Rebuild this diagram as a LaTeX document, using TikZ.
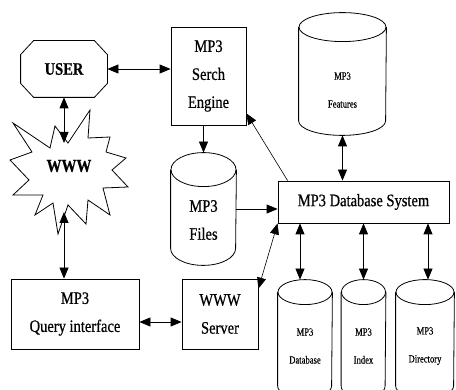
\documentclass[tikz,border=0pt]{standalone}
\usepackage{fontspec}
\setmainfont[FakeStretch=0.83, FakeBold=0.6]{Liberation Serif}
\newfontfamily\narrowfont[FakeStretch=0.78, FakeBold=0.3]{Liberation Serif}
\usetikzlibrary{arrows.meta}
\newcommand\bigtxt{\fontsize{17.5}{28}\selectfont}
\newcommand\smalltxt{\narrowfont\fontsize{11}{28}\selectfont}
% drum: name, cx, cy, width, height, ry
\newcommand\drum[6]{%
  \node[minimum width=#4pt, minimum height=#5pt, inner sep=0pt] (#1) at (#2,#3) {};
  \draw ([yshift=-#6pt]#1.north west) -- ([yshift=#6pt]#1.south west)
        arc[start angle=180, end angle=360, x radius={#4pt/2}, y radius=#6pt]
        -- ([yshift=-#6pt]#1.north east);
  \draw ([yshift=-#6pt]#1.north) ellipse[x radius={#4pt/2}, y radius=#6pt];
}
\begin{document}
\begin{tikzpicture}[x=1pt, y=-1pt, line width=0.8pt,
  panel/.style={draw, inner sep=0pt, align=center, font=\bigtxt},
  label/.style={inner sep=0pt, align=center},
  tip/.tip={Triangle[length=11pt, width=9pt]},
  arr/.style={-tip},
  darr/.style={tip-tip}]
  \useasboundingbox (0,0) rectangle (456,390);
  \fill[white] (0,0) rectangle (456,390);
  \clip (0,0) rectangle (456,390);

  % user octagon
  \node[minimum width=86pt, minimum height=56pt, inner sep=0pt, font=\bigtxt\bfseries] (user) at (64,69) {USER};
  \draw ([xshift=13pt]user.north west) -- ([xshift=-13pt]user.north east)
     -- ([yshift=-14pt]user.north east) -- ([yshift=14pt]user.south east)
     -- ([xshift=-13pt]user.south east) -- ([xshift=13pt]user.south west)
     -- ([yshift=14pt]user.south west) -- ([yshift=-14pt]user.north west) -- cycle;

  % WWW burst
  \draw (13,123) -- (50,148) -- (55,126) -- (68,143) -- (90,110) -- (88,138)
     -- (110,137) -- (106,152) -- (126,158) -- (112,170) -- (128,187) -- (103,188)
     -- (110,215) -- (88,200) -- (86,224) -- (68,205) -- (58,234) -- (53,203)
     -- (35,215) -- (43,195) -- (13,195) -- (29,180) -- (10,160) -- (32,152) -- cycle;
  \node[label, font=\fontsize{18}{20}\selectfont\bfseries] (www) at (69,166) {WWW};
  \coordinate (wwwtop) at (64,143);
  \coordinate (wwwbot) at (64,212);

  % boxes
  \node[panel, minimum width=75pt, minimum height=98pt] (engine) at (208.5,76) {MP3\\Serch\\Engine};
  \node[panel, minimum width=128pt, minimum height=70pt] (query) at (75,314) {MP3\\Query interface};
  \node[panel, minimum width=76pt, minimum height=70pt] (server) at (220,314) {WWW\\Server};
  \node[panel, minimum width=171pt, minimum height=42pt] (dbsys) at (363.5,202) {MP3 Database System};

  % drums
  \drum{features}{342.5}{74}{87}{122}{14.5}
  \node[label, font=\smalltxt] (featurest) at (342.5,90) {MP3\\Features};
  \drum{files}{203.5}{209}{65}{112}{17}
  \node[label, font=\bigtxt] (filest) at (203.5,220) {MP3\\Files};
  \drum{database}{305}{339}{54}{118}{12.5}
  \node[label, font=\smalltxt] (databaset) at (305,346) {MP3\\Database};
  \drum{index}{363.5}{339}{44}{118}{12.5}
  \node[label, font=\smalltxt] (indext) at (363.5,346) {MP3\\Index};
  \drum{directory}{425}{339}{58}{118}{12.5}
  \node[label, font=\smalltxt] (directoryt) at (425,346) {MP3\\Directory};

  % connectors
  \draw[darr] (user.east) -- (user.east -| engine.west);
  \draw[darr] (user.south) -- (user.south |- wwwtop);
  \draw[darr] (wwwbot) -- (wwwbot |- query.north);
  \draw[darr] ([yshift=-8pt]query.east) -- ([yshift=-8pt]query.east -| server.west);
  \draw[arr] (files.north |- engine.south) -- (files.north);
  \draw[arr] (files.east) -- (files.east -| dbsys.west);
  \draw[darr] (features.south) -- (features.south |- dbsys.north);
  \draw[arr, line width=0.6pt] ([xshift=10pt]dbsys.north west) -- ([yshift=12pt]engine.south east);
  \draw[darr, line width=0.6pt] ([yshift=-10pt]server.north east) -- (dbsys.south west);
  \draw[darr] ([xshift=-5pt]database.north) -- ([xshift=-5pt]database.north |- dbsys.south);
  \draw[darr] (index.north) -- (index.north |- dbsys.south);
  \draw[darr] ([xshift=3pt]directory.north) -- ([xshift=3pt]directory.north |- dbsys.south);
\end{tikzpicture}
\end{document}
